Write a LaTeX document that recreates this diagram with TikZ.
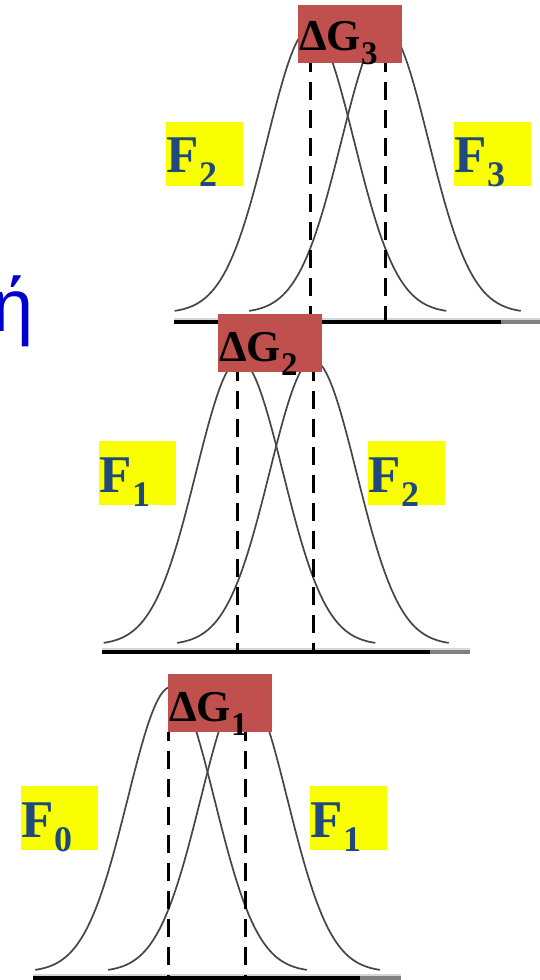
\documentclass[tikz,border=0pt]{standalone}
\usepackage{fontspec}
\setmainfont{Liberation Serif}
\newfontfamily\etafont{Liberation Sans}
\definecolor{dgred}{RGB}{192,80,77}
\definecolor{fblue}{RGB}{31,73,125}
\definecolor{fyel}{RGB}{250,255,0}
\definecolor{etablue}{RGB}{0,0,204}
\definecolor{curvegray}{RGB}{70,70,70}
\definecolor{endgray}{RGB}{128,128,128}
\definecolor{lightaxis}{RGB}{215,215,215}
\newcommand{\dgsub}[1]{\raisebox{-14pt}{\fontsize{33}{33}\selectfont #1}}
\newcommand{\fsub}[1]{\raisebox{-14pt}{\fontsize{36}{36}\selectfont #1}}
\newcommand{\gcurve}[2]{\draw[curveline] plot[domain=-3.13:3.13,samples=90,variable=\t] ({#1+43.4*\t},{#2-285*exp(-\t*\t/2)});}
\newcommand{\axisline}[4]{%
  \draw[line width=2pt,lightaxis] (#1,#2-3) -- (#4,#2-3);
  \draw[line width=3.5pt,black] (#1,#2) -- (#3,#2);
  \draw[line width=3.5pt,endgray] (#3,#2) -- (#4,#2);}
\tikzset{
  curveline/.style={line width=1.7pt,curvegray},
  dashline/.style={line width=3pt,black,dash pattern=on 18pt off 10pt,dash phase=9pt},
  dgbox/.style={fill=dgred,draw=none,minimum width=104pt,minimum height=58pt,inner sep=0pt,anchor=north west},
  fbox/.style={fill=fyel,draw=none,minimum width=77pt,minimum height=64pt,inner sep=0pt,anchor=north west},
  dgtext/.style={anchor=base west,inner sep=0pt,text=black,font=\bfseries\fontsize{44}{44}\selectfont},
  ftext/.style={anchor=base west,inner sep=0pt,text=fblue,font=\bfseries\fontsize{53}{53}\selectfont},
}
\begin{document}
\begin{tikzpicture}[x=1pt,y=-1pt]
\useasboundingbox (0,0) rectangle (539,980);
\fill[white] (0,0) rectangle (539,980);
% eta
\node[anchor=base east,inner sep=0pt,text=etablue,font=\etafont\fontsize{74}{74}\selectfont] (eta) at (34,331) {ή};
% ---------- panel 3 (top)
\axisline{174}{322}{501}{541}
\gcurve{310.5}{313}
\gcurve{385}{313}
\coordinate (d3a) at (310,63); \coordinate (d3ab) at (310,322);
\coordinate (d3b) at (385.5,63); \coordinate (d3bb) at (385.5,322);
\draw[dashline] (d3a) -- (d3ab);
\draw[dashline] (d3b) -- (d3bb);
% ---------- panel 2 (middle)
\axisline{102}{652}{430}{470}
\gcurve{239.5}{645}
\gcurve{313}{645}
\coordinate (d2a) at (237.5,372); \coordinate (d2ab) at (237.5,652);
\coordinate (d2b) at (313,372); \coordinate (d2bb) at (313,652);
\draw[dashline] (d2a) -- (d2ab);
\draw[dashline] (d2b) -- (d2bb);
% ---------- panel 1 (bottom)
\axisline{33}{978}{360}{401}
\gcurve{171}{972}
\gcurve{244}{972}
\coordinate (d1a) at (168.5,732); \coordinate (d1ab) at (168.5,978);
\coordinate (d1b) at (245,732); \coordinate (d1bb) at (245,978);
\draw[dashline] (d1a) -- (d1ab);
\draw[dashline] (d1b) -- (d1bb);
% ---------- boxes
\node[fbox] (f2l) at (166,122) {};
\node[fbox] (f3r) at (454,122) {};
\node[fbox] (f1l) at (99,441) {};
\node[fbox] (f2r) at (368,441) {};
\node[fbox] (f0l) at (21,786) {};
\node[fbox] (f1r) at (310,786) {};
\node[dgbox] (g3) at (298,5) {};
\node[dgbox] (g2) at (218,314) {};
\node[dgbox] (g1) at (168,674) {};
% ---------- texts
\node[dgtext] (g3t) at (299,50) {ΔG\dgsub{3}};
\node[dgtext] (g2t) at (219,361) {ΔG\dgsub{2}};
\node[dgtext] (g1t) at (169,721) {ΔG\dgsub{1}};
\node[ftext] (f2lt) at (166.5,172) {F\fsub{2}};
\node[ftext] (f3rt) at (454.5,172) {F\fsub{3}};
\node[ftext] (f1lt) at (99.5,492) {F\fsub{1}};
\node[ftext] (f2rt) at (368.5,492) {F\fsub{2}};
\node[ftext] (f0lt) at (21.5,837) {F\fsub{0}};
\node[ftext] (f1rt) at (310.5,837) {F\fsub{1}};
\end{tikzpicture}
\end{document}
